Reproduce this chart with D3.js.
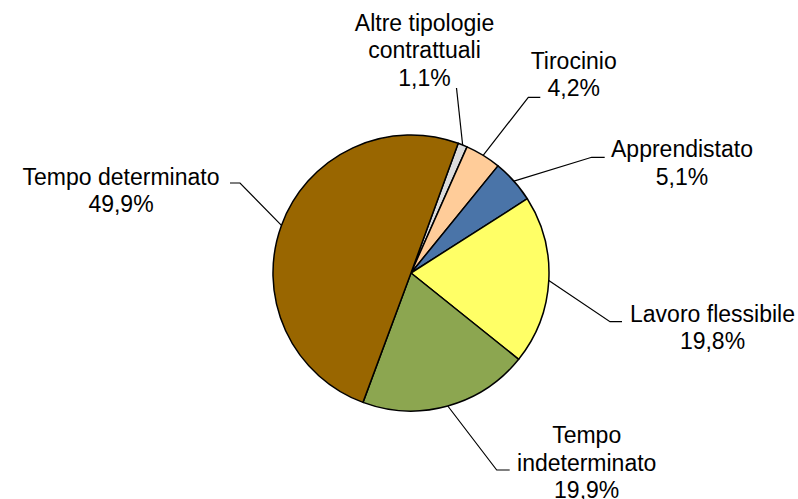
<!DOCTYPE html>
<html lang="it">
<head>
  <meta charset="utf-8">
  <title>Tipologie contrattuali</title>
  <style>
    html, body { margin:0; padding:0; background:#fff; overflow:hidden; }
    svg { display:block; }
    .lbl { font-family:"Liberation Sans", Arial, sans-serif; font-size:23px; fill:#000; }
  </style>
</head>
<body>
  <svg id="chart" width="798" height="499"></svg>
  <script src="https://d3js.org/d3.v7.min.js"></script>
  <script>
    // dati
    const categories = ["Altre tipologie contrattuali", "Tirocinio", "Apprendistato",
                        "Lavoro flessibile", "Tempo indeterminato", "Tempo determinato"];
    const values = [1.1, 4.2, 5.1, 19.8, 19.9, 49.9];
    const colors = ["#dcdcdc", "#ffcc99", "#4a74a8", "#ffff66", "#8ca650", "#996600"];
    // righe delle etichette
    const labelLines = [["Altre tipologie", "contrattuali"], ["Tirocinio"], ["Apprendistato"],
                        ["Lavoro flessibile"], ["Tempo", "indeterminato"], ["Tempo determinato"]];

    // posizione etichette (centro testo, prima baseline, gomito e coda della linea guida)
    const labelLayout = [
      { cx: 424.5, y: 30.7,  elbow: [456.5, 88],    tail: 0 },
      { cx: 573.7, y: 69,    elbow: [528.3, 97.3],  tail: 12 },
      { cx: 682,   y: 157.3, elbow: [591.7, 157.3], tail: 13 },
      { cx: 712.5, y: 321.7, elbow: [610, 321.7],   tail: 12 },
      { cx: 586.7, y: 443.3, elbow: [496.7, 470],   tail: 13 },
      { cx: 121,   y: 185,   elbow: [240, 183],     tail: -10 }
    ];

    const cx = 411, cy = 273, r = 138, lineH = 27.4;
    const fmt = v => d3.format(".1f")(v).replace(".", ",") + "%";

    const svg = d3.select("#chart");
    const g = svg.append("g").attr("transform", `translate(${cx},${cy})`);

    const rows = categories.map((c, i) => ({ name: c, value: values[i], i }));
    const pie = d3.pie().sort(null).value(d => d.value)
      .startAngle(20 * Math.PI / 180).endAngle(380 * Math.PI / 180);
    const arcs = pie(rows);
    const arc = d3.arc().innerRadius(0).outerRadius(r);

    g.selectAll("path.slice")
      .data(arcs)
      .join("path")
      .attr("class", "slice")
      .attr("d", arc)
      .attr("fill", d => colors[d.data.i])
      .attr("stroke", "#000")
      .attr("stroke-width", 1.5)
      .attr("stroke-linejoin", "round");

    // linee guida
    svg.selectAll("path.leader")
      .data(arcs)
      .join("path")
      .attr("class", "leader")
      .attr("fill", "none")
      .attr("stroke", "#000")
      .attr("stroke-width", 1.2)
      .attr("d", d => {
        const a = (d.startAngle + d.endAngle) / 2;
        const p0 = [cx + r * Math.sin(a), cy - r * Math.cos(a)];
        const L = labelLayout[d.data.i];
        const pts = [p0, L.elbow];
        if (L.tail) pts.push([L.elbow[0] + L.tail, L.elbow[1]]);
        return d3.line()(pts);
      });

    // etichette
    const lbl = svg.selectAll("text.lbl")
      .data(arcs)
      .join("text")
      .attr("class", "lbl")
      .attr("text-anchor", "middle");

    lbl.each(function(d) {
      const L = labelLayout[d.data.i];
      const lines = labelLines[d.data.i].concat([fmt(d.data.value)]);
      d3.select(this).selectAll("tspan")
        .data(lines)
        .join("tspan")
        .attr("x", L.cx)
        .attr("y", (t, k) => L.y + k * lineH)
        .text(t => t);
    });
  </script>
</body>
</html>
